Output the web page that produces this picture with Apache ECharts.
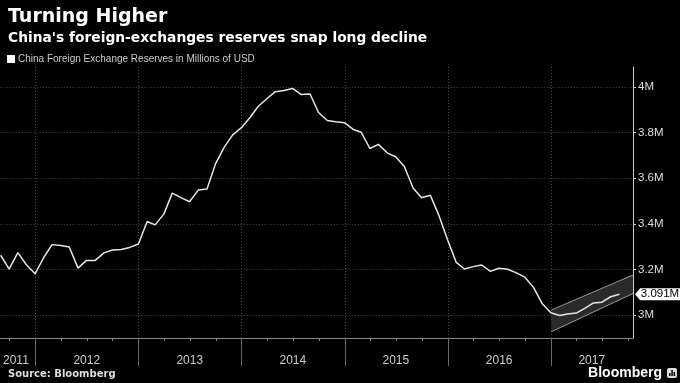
<!DOCTYPE html>
<html>
<head>
<meta charset="utf-8">
<script src="https://cdn.jsdelivr.net/npm/echarts@6/dist/echarts.min.js"></script>
<style>
html, body { margin: 0; padding: 0; background: #000; }
#chart { width: 680px; height: 383px; }
</style>
</head>
<body>
<div id="chart"></div>
<script>
// monthly reserves, end of month, Aug 2011 .. Aug 2017 (trillions shown as "M")
const startYear = 2011;
const startMonth = 8;
const reserves = [
  3.2625, 3.2017, 3.2738, 3.2209, 3.1811,
  3.2536, 3.3090, 3.3050, 3.2989, 3.2061, 3.2400, 3.2400, 3.2728, 3.2851, 3.2874, 3.2968, 3.3116,
  3.4100, 3.3954, 3.4426, 3.5345, 3.5148, 3.4967, 3.5478, 3.5530, 3.6627, 3.7363, 3.7894, 3.8213,
  3.8666, 3.9137, 3.9481, 3.9788, 3.9839, 3.9932, 3.9663, 3.9688, 3.8877, 3.8529, 3.8474, 3.8430,
  3.8134, 3.8015, 3.7301, 3.7481, 3.7111, 3.6938, 3.6513, 3.5574, 3.5141, 3.5255, 3.4383, 3.3304,
  3.2309, 3.2023, 3.2126, 3.2197, 3.1917, 3.2052, 3.2011, 3.1851, 3.1664, 3.1207, 3.0516, 3.0105,
  2.9982, 3.0051, 3.0091, 3.0295, 3.0536, 3.0568, 3.0807, 3.0915
];
const seriesName = 'China Foreign Exchange Reserves in Millions of USD';
const lastLabel = '3.091M';

const xMin = '2011-08-31';
const xMax = '2017-10-18';
const yearStarts = ['2012-01-01', '2013-01-01', '2014-01-01', '2015-01-01', '2016-01-01', '2017-01-01'];
const yearLabels = ['2011', '2012', '2013', '2014', '2015', '2016', '2017'];
const yearLabelDates = ['2011-10-24', '2012-07-01', '2013-07-01', '2014-07-01', '2015-07-01', '2016-07-01', '2017-05-25'];
const quarterStarts = [
  '2011-10-01',
  '2012-04-01', '2012-07-01', '2012-10-01',
  '2013-04-01', '2013-07-01', '2013-10-01',
  '2014-04-01', '2014-07-01', '2014-10-01',
  '2015-04-01', '2015-07-01', '2015-10-01',
  '2016-04-01', '2016-07-01', '2016-10-01',
  '2017-04-01', '2017-07-01', '2017-10-01'
];
const yTicks = [3, 3.2, 3.4, 3.6, 3.8, 4];

// trend channel drawn over 2017
const bandDates = ['2017-01-01', '2017-10-18'];
const bandLower = [2.927, 3.095];
const bandUpper = [3.022, 3.176];

function ms(s) { return new Date(s + 'T00:00:00').getTime(); }
const months = reserves.map(function (v, i) {
  return new Date(startYear, startMonth + i, 0).getTime();
});
const labelStamps = yearLabelDates.map(ms);

const chart = echarts.init(document.getElementById('chart'));
const gridColor = '#4a4a4a';

chart.setOption({
  backgroundColor: '#000',
  animation: false,
  title: [
    {
      text: 'Turning Higher', left: 3, top: 3,
      textStyle: { color: '#fff', fontFamily: 'DejaVu Sans', fontWeight: 'bold', fontSize: 19 }
    },
    {
      text: "China's foreign-exchanges reserves snap long decline", left: 3, top: 26,
      textStyle: { color: '#fff', fontFamily: 'DejaVu Sans', fontWeight: 'bold', fontSize: 13.8 }
    },
    {
      text: 'Source: Bloomberg', left: 3, top: 364,
      textStyle: { color: '#ddd', fontFamily: 'DejaVu Sans', fontWeight: 'bold', fontSize: 10 }
    }
  ],
  legend: {
    data: [seriesName],
    left: 2, top: 49,
    icon: 'rect', itemWidth: 8, itemHeight: 8, itemGap: 4,
    textStyle: { color: '#ccc', fontFamily: 'Liberation Sans', fontSize: 10, padding: [0, 0, 0, -2] }
  },
  grid: { left: 0, right: 47, top: 67, bottom: 45 },
  xAxis: [
    {
      type: 'value', min: ms(xMin), max: ms(xMax),
      axisLine: { show: true, lineStyle: { color: '#888', width: 1 } },
      axisTick: { show: true, customValues: yearStarts.map(ms), length: 28, lineStyle: { color: '#666' } },
      axisLabel: {
        customValues: labelStamps, margin: 17, color: '#ccc',
        fontFamily: 'Liberation Sans', fontSize: 12,
        formatter: function (v) { return yearLabels[labelStamps.indexOf(v)]; }
      },
      splitLine: { show: true, lineStyle: { color: gridColor, type: [1, 2] } }
    },
    {
      type: 'value', min: ms(xMin), max: ms(xMax), position: 'bottom', offset: 0,
      axisLine: { show: false },
      axisTick: { show: true, customValues: quarterStarts.map(ms), length: 3, lineStyle: { color: '#888' } },
      axisLabel: { show: false },
      splitLine: { show: false }
    }
  ],
  yAxis: {
    type: 'value', position: 'right', min: 2.9, max: 4.087,
    axisLine: { show: true, lineStyle: { color: '#ccc', width: 1 } },
    axisTick: { show: true, customValues: yTicks, length: 3, lineStyle: { color: '#ccc' } },
    axisLabel: {
      customValues: yTicks, margin: 5, color: '#ddd',
      fontFamily: 'Liberation Sans', fontSize: 11.5,
      formatter: function (v) { return v + 'M'; }
    },
    splitLine: { show: true, lineStyle: { color: gridColor, type: [1, 2] } }
  },
  series: [
    {
      type: 'custom',
      silent: true,
      data: [0],
      z: 1,
      renderItem: function (params, api) {
        const a = api.coord([ms(bandDates[0]), bandLower[0]]);
        const b = api.coord([ms(bandDates[1]), bandLower[1]]);
        const c = api.coord([ms(bandDates[1]), bandUpper[1]]);
        const d = api.coord([ms(bandDates[0]), bandUpper[0]]);
        return {
          type: 'group',
          children: [
            { type: 'polygon', shape: { points: [a, b, c, d] }, style: { fill: '#2a2a2a' } },
            { type: 'line', shape: { x1: a[0], y1: a[1], x2: b[0], y2: b[1] }, style: { stroke: '#999', lineWidth: 1 } },
            { type: 'line', shape: { x1: d[0], y1: d[1], x2: c[0], y2: c[1] }, style: { stroke: '#999', lineWidth: 1 } }
          ]
        };
      }
    },
    {
      name: seriesName,
      type: 'line',
      z: 3,
      data: months.map(function (m, i) { return [m, reserves[i]]; }),
      showSymbol: false,
      symbol: 'none',
      itemStyle: { color: '#fff' },
      lineStyle: { color: '#e6e6e6', width: 1.5 },
      markPoint: {
        silent: true,
        symbol: 'path://M0,5 L5,0 L45,0 L45,10 L5,10 Z',
        symbolSize: [46, 12],
        symbolKeepAspect: false,
        symbolOffset: [25, 0],
        itemStyle: { color: '#fff' },
        label: {
          show: true, position: 'inside', offset: [2, 0],
          color: '#000', fontFamily: 'Liberation Sans', fontSize: 11.5,
          formatter: lastLabel
        },
        data: [{ coord: [ms(xMax), reserves[reserves.length - 1]] }]
      }
    }
  ],
  graphic: [
    {
      type: 'text', right: 18, top: 366,
      style: { text: 'Bloomberg', fill: '#fff', font: 'bold 14px "Liberation Sans"' }
    },
    {
      type: 'group', right: 3, top: 368,
      children: [
        { type: 'rect', shape: { x: 0, y: 0, width: 10, height: 10, r: 2 }, style: { fill: '#ddd' } },
        { type: 'rect', shape: { x: 2, y: 5, width: 1.5, height: 3 }, style: { fill: '#000' } },
        { type: 'rect', shape: { x: 4.3, y: 2, width: 1.5, height: 6 }, style: { fill: '#000' } },
        { type: 'rect', shape: { x: 6.6, y: 4, width: 1.5, height: 4 }, style: { fill: '#000' } }
      ]
    }
  ]
});
</script>
</body>
</html>
